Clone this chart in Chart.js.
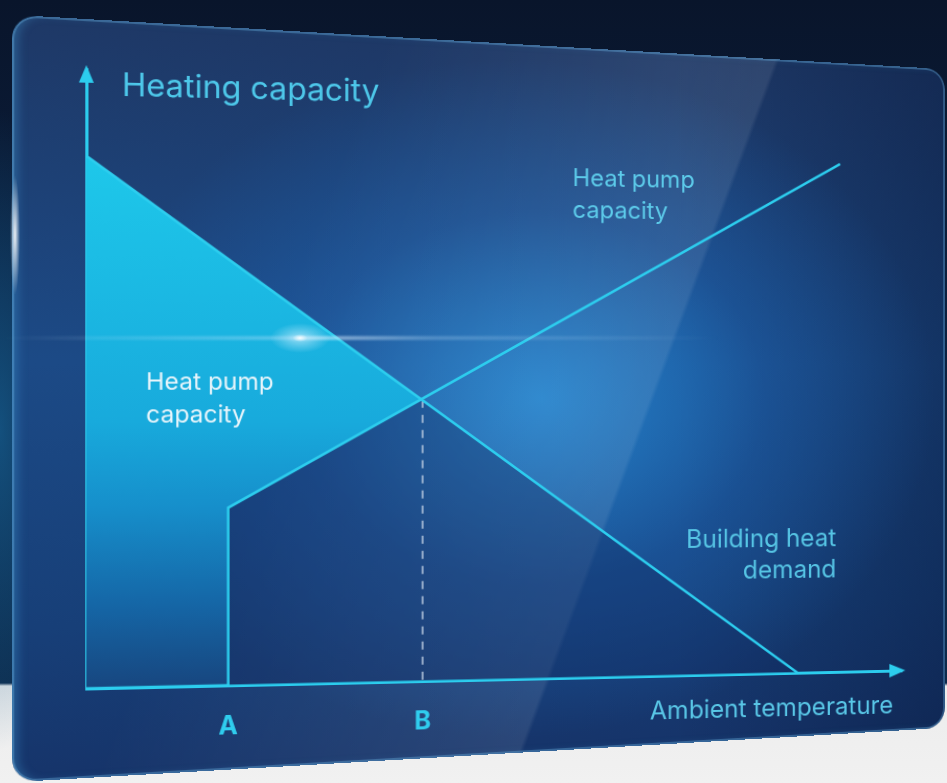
<!DOCTYPE html>
<html>
<head>
<meta charset="utf-8">
<title>Heating capacity vs ambient temperature</title>
<script src="https://cdn.jsdelivr.net/npm/chart.js@4.4.1/dist/chart.umd.min.js"></script>
<style>
  html, body { margin: 0; padding: 0; }
  body {
    width: 947px; height: 783px; overflow: hidden; position: relative;
    background:
      radial-gradient(ellipse 70px 320px at 0px 430px, rgba(22,95,145,0.75), rgba(22,95,145,0) 100%),
      linear-gradient(to bottom, #09152b 0px, #0b1f3e 300px, #0d2a4b 683px, #ececec 686px, #f1f1f1 783px);
  }
  .panel, .plot {
    position: absolute; left: 44px; top: 44px; width: 940px; height: 709px;
    transform-origin: 50% 50%;
  }
  .panel {
    transform: perspective(1000px) rotateY(9.35deg);
    border-radius: 22px;
    background:
      linear-gradient(111deg, rgba(255,255,255,0) 28%, rgba(255,255,255,0.09) 61.6%, rgba(255,255,255,0) 62%),
      radial-gradient(ellipse 430px 340px at 53% 50%, rgba(38,145,222,0.8) 0%, rgba(30,110,195,0.35) 55%, rgba(20,80,160,0) 100%),
      linear-gradient(90deg, rgba(8,25,60,0) 68%, rgba(8,25,60,0.45) 100%),
      linear-gradient(180deg, #1e3866 0%, #1c4a86 45%, #173f78 80%, #16346a 100%);
    box-shadow: inset 0 0 0 2px rgba(110,180,225,0.35), inset 7px 0 8px -2px rgba(70,160,215,0.35);
  }
  .plot { transform: perspective(1000px) rotateY(4.5deg); }
  .flare {
    position: absolute; left: 270px; top: 323px; width: 60px; height: 30px;
    background: radial-gradient(ellipse 30px 15px at 50% 50%, rgba(255,255,255,0.95) 0%, rgba(210,240,255,0.5) 25%, rgba(180,230,255,0) 100%);
  }
  .streak {
    position: absolute; left: 0px; top: 336px; width: 720px; height: 4px;
    background: linear-gradient(90deg, rgba(200,230,255,0) 0%, rgba(200,230,255,0.35) 40%, rgba(220,240,255,0.6) 42%, rgba(200,230,255,0.25) 60%, rgba(200,230,255,0) 100%);
    filter: blur(1px);
  }
  .rim {
    position: absolute; left: 10px; top: 170px; width: 10px; height: 130px;
    background: radial-gradient(ellipse 5px 60px at 50% 50%, rgba(255,255,255,0.9), rgba(255,255,255,0) 100%);
  }
</style>
</head>
<body>
<div class="panel"></div>
<div class="plot"><canvas id="chart" width="940" height="709"></canvas></div>
<div class="streak"></div>
<div class="flare"></div>
<div class="rim"></div>
<script>
// heat pump output: nothing below A, then rises with temperature
const pumpX = [0, 16.5, 16.5, 92];
const pumpY = [0, 0, 29, 87];
// building heat demand falls linearly as it gets warmer outside
const demandX = [0, 86.5];
const demandY = [86, 0];
// balance point B, where the two curves cross
const balanceX = [39.7, 39.7];
const balanceY = [46.6, 0];
const tickValues = [16.5, 39.7];
const tickLabels = ['A', 'B'];

const CYAN = '#2ccdee';
const FONT = 'Inter, "Noto Sans", sans-serif';

const toPoints = (xs, ys) => xs.map((x, i) => ({ x: x, y: ys[i] }));

// text annotations on the plot, placed in data units
const notes = [
  { lines: ['Heating capacity'], x: 4.1, y: 97.4, align: 'left', size: 31, color: '#4dc8ea' },
  { lines: ['Heat pump', 'capacity'], x: 58.1, y: 83.6, align: 'left', size: 24, color: '#5ccbea' },
  { lines: ['Heat pump', 'capacity'], x: 6.9, y: 49.5, align: 'left', size: 23.5, color: '#e8f5fb' },
  { lines: ['Building heat', 'demand'], x: 91.5, y: 22.8, align: 'right', size: 25.5, color: '#55c4e4' },
  { lines: ['Ambient temperature'], x: 98.9, y: -6.1, align: 'right', size: 25.5, color: '#58c6e6' }
];

const axisDecor = {
  id: 'axisDecor',
  afterDraw(chart) {
    const { ctx, chartArea: a, scales } = chart;
    ctx.save();
    ctx.fillStyle = CYAN;
    // arrow heads at the ends of both axes
    ctx.beginPath();
    ctx.moveTo(a.left, a.top - 4);
    ctx.lineTo(a.left - 7, a.top + 13);
    ctx.lineTo(a.left + 7, a.top + 13);
    ctx.closePath();
    ctx.fill();
    ctx.beginPath();
    ctx.moveTo(a.right + 4, a.bottom);
    ctx.lineTo(a.right - 13, a.bottom - 7);
    ctx.lineTo(a.right - 13, a.bottom + 7);
    ctx.closePath();
    ctx.fill();

    ctx.textBaseline = 'middle';
    notes.forEach(n => {
      ctx.font = '400 ' + n.size + 'px ' + FONT;
      ctx.fillStyle = n.color;
      ctx.textAlign = n.align;
      const px = scales.x.getPixelForValue(n.x);
      const py = scales.y.getPixelForValue(n.y);
      n.lines.forEach((t, i) => ctx.fillText(t, px, py + i * 32));
    });
    ctx.restore();
  }
};

const ctx = document.getElementById('chart').getContext('2d');
new Chart(ctx, {
  type: 'line',
  data: {
    datasets: [
      {
        // the part of the demand the heat pump cannot cover is shaded cyan
        label: 'Heat pump capacity',
        data: toPoints(pumpX, pumpY),
        borderColor: CYAN,
        borderWidth: 2.5,
        pointRadius: 0,
        fill: { target: 1, above: 'rgba(0,0,0,0)' },
        backgroundColor(context) {
          const chart = context.chart;
          if (!chart.chartArea) return 'rgba(30,190,230,0.9)';
          const y = chart.scales.y;
          const g = chart.ctx.createLinearGradient(0, y.getPixelForValue(86), 0, y.getPixelForValue(0));
          g.addColorStop(0, '#1ec8ea');
          g.addColorStop(0.5, '#18aadc');
          g.addColorStop(0.66, '#168fcb');
          g.addColorStop(0.84, '#1567a7');
          g.addColorStop(1, '#17467f');
          return g;
        }
      },
      {
        label: 'Building heat demand',
        data: toPoints(demandX, demandY),
        borderColor: CYAN,
        borderWidth: 2.5,
        pointRadius: 0,
        fill: 'origin',
        backgroundColor: 'rgba(14,40,95,0.35)'
      },
      {
        label: 'Balance point',
        data: toPoints(balanceX, balanceY),
        borderColor: 'rgba(190,205,225,0.75)',
        borderWidth: 2,
        borderDash: [8, 7],
        pointRadius: 0,
        fill: false
      }
    ]
  },
  options: {
    responsive: false,
    animation: false,
    layout: { padding: { left: 55, top: 36, right: 69, bottom: -6 } },
    plugins: {
      legend: { display: false },
      tooltip: { enabled: false },
      filler: { drawTime: 'beforeDatasetsDraw' }
    },
    scales: {
      x: {
        type: 'linear',
        min: 0,
        max: 100,
        grid: { display: false, drawTicks: false },
        border: { color: CYAN, width: 3 },
        afterBuildTicks(scale) {
          scale.ticks = tickValues.map(v => ({ value: v }));
        },
        ticks: {
          autoSkip: false,
          maxRotation: 0,
          padding: 25,
          color: '#2fcdee',
          font: { family: FONT, size: 25, weight: 'bold' },
          callback: (value, index) => tickLabels[index]
        }
      },
      y: {
        type: 'linear',
        min: 0,
        max: 100,
        grid: { display: false, drawTicks: false },
        border: { color: CYAN, width: 3 },
        ticks: { display: false }
      }
    }
  },
  plugins: [axisDecor]
});
</script>
</body>
</html>
